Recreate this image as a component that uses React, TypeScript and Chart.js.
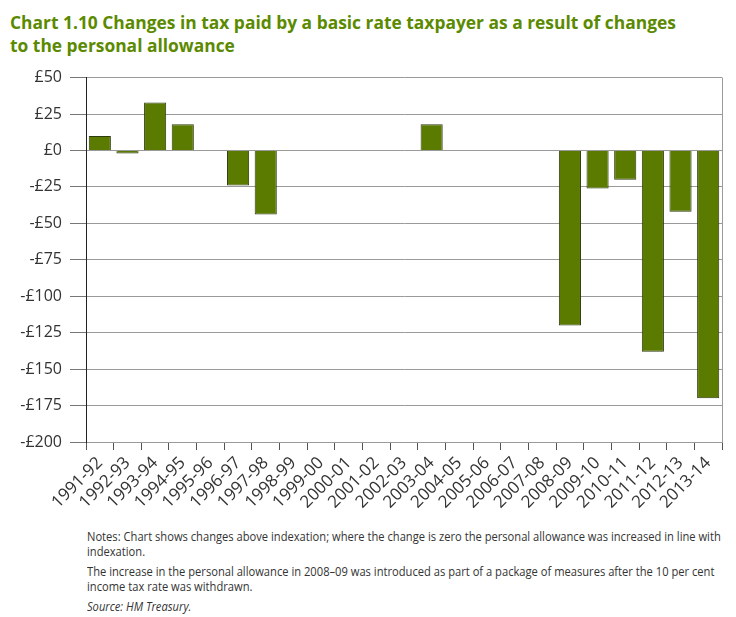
import React, { useEffect, useRef } from "react";
import { Chart, registerables } from "chart.js";

Chart.register(...registerables);

const categories = [
  "1991-92", "1992-93", "1993-94", "1994-95", "1995-96", "1996-97", "1997-98",
  "1998-99", "1999-00", "2000-01", "2001-02", "2002-03", "2003-04", "2004-05",
  "2005-06", "2006-07", "2007-08", "2008-09", "2009-10", "2010-11", "2011-12",
  "2012-13", "2013-14",
];
const taxChange = [10, -2, 33, 18, 0, -24, -44, 0, 0, 0, 0, 0, 18, 0, 0, 0, 0, -120, -26, -20, -138, -42, -170];

const yMin = -200;
const yMax = 50;
const yStep = 25;

const titleLines = [
  "Chart 1.10 Changes in tax paid by a basic rate taxpayer as a result of changes",
  "to the personal allowance",
];

const AXIS_FONT = "'Open Sans', 'Noto Sans', sans-serif";

const rightBorder = {
  id: "rightBorder",
  afterDraw(chart: any) {
    const { ctx, chartArea } = chart;
    ctx.save();
    ctx.strokeStyle = "#9a9a9a";
    ctx.lineWidth = 1;
    ctx.beginPath();
    ctx.moveTo(Math.round(chartArea.right) + 0.5, chartArea.top);
    ctx.lineTo(Math.round(chartArea.right) + 0.5, chartArea.bottom);
    ctx.stroke();
    ctx.restore();
  },
};

export default function App() {
  const canvasRef = useRef<HTMLCanvasElement | null>(null);

  useEffect(() => {
    const canvas = canvasRef.current;
    if (!canvas) return;
    const chart = new Chart(canvas, {
      type: "bar",
      data: {
        labels: categories,
        datasets: [
          {
            data: taxChange,
            backgroundColor: "#5a7a00",
            borderColor: "#2f3a10",
            borderWidth: 1,
            barPercentage: 0.8,
            categoryPercentage: 1.0,
          },
        ],
      },
      options: {
        animation: false,
        responsive: false,
        maintainAspectRatio: false,
        layout: { padding: { left: 0, right: 14, top: 17, bottom: 0 } },
        plugins: {
          legend: { display: false },
          tooltip: { enabled: false },
          title: { display: false },
        },
        scales: {
          x: {
            offset: true,
            afterFit: (scale: any) => {
              scale.height = 78;
            },
            grid: {
              offset: true,
              drawOnChartArea: false,
              drawTicks: true,
              tickLength: 8,
              tickColor: "#555",
            },
            border: { display: true, color: "#9a9a9a" },
            ticks: {
              autoSkip: false,
              maxRotation: 45,
              minRotation: 45,
              padding: 3,
              color: "#333",
              font: { family: AXIS_FONT, size: 17 },
            },
          },
          y: {
            min: yMin,
            max: yMax,
            afterFit: (scale: any) => {
              scale.width = 86;
            },
            grid: {
              color: "#9a9a9a",
              lineWidth: 1,
              drawTicks: true,
              tickLength: 16,
              tickColor: "#777",
            },
            border: { display: true, color: "#222", width: 1 },
            ticks: {
              stepSize: yStep,
              padding: 8,
              color: "#333",
              font: { family: AXIS_FONT, size: 16 },
              callback: (v: any) => (Number(v) < 0 ? "-£" + Math.abs(Number(v)) : "£" + v),
            },
          },
        },
      },
      plugins: [rightBorder],
    });
    return () => chart.destroy();
  }, []);

  return (
    <div style={{ position: "absolute", left: 0, top: 0, width: 736, height: 617, background: "#fff", overflow: "hidden" }}>
      <div
        style={{
          position: "absolute",
          left: 10,
          top: 11,
          color: "#5b8a00",
          fontFamily: AXIS_FONT,
          fontWeight: "bold",
          fontSize: 17.4,
          lineHeight: "23px",
          whiteSpace: "nowrap",
        }}
      >
        {titleLines.map((l, i) => (
          <div key={i}>{l}</div>
        ))}
      </div>
      <canvas ref={canvasRef} width={736} height={460} style={{ position: "absolute", left: 0, top: 60, width: 736, height: 460 }} />
      <div
        style={{
          position: "absolute",
          left: 87,
          top: 529,
          color: "#333",
          fontFamily: AXIS_FONT,
          fontSize: 12,
          lineHeight: "15px",
          whiteSpace: "nowrap",
          transform: "scaleX(0.93)",
          transformOrigin: "left top",
        }}
      >
        <div>Notes: Chart shows changes above indexation; where the change is zero the personal allowance was increased in line with</div>
        <div>indexation.</div>
        <div style={{ marginTop: 5 }}>The increase in the personal allowance in 2008–09 was introduced as part of a package of measures after the 10 per cent</div>
        <div>income tax rate was withdrawn.</div>
        <div style={{ marginTop: 5, fontStyle: "italic" }}>Source: HM Treasury.</div>
      </div>
    </div>
  );
}
